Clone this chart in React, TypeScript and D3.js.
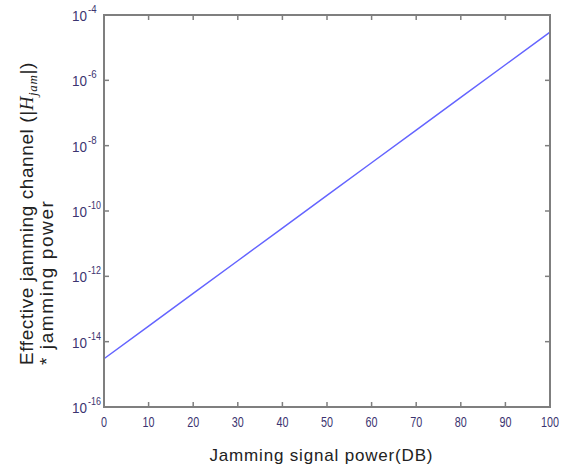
import { useRef, useEffect } from 'react';
import * as d3 from 'd3';

// jamming signal power (dB) and effective jamming channel * jamming power
const powerDb = [0, 10, 20, 30, 40, 50, 60, 70, 80, 90, 100];
const effective = [3e-15, 3e-14, 3e-13, 3e-12, 3e-11, 3e-10, 3e-9, 3e-8, 3e-7, 3e-6, 3e-5];
const xTicks = [0, 10, 20, 30, 40, 50, 60, 70, 80, 90, 100];
const yExponents = [-4, -6, -8, -10, -12, -14, -16];

export default function App() {
  const svgRef = useRef<SVGSVGElement>(null);

  useEffect(() => {
    const svg = d3.select(svgRef.current);
    svg.selectAll('*').remove();

    const width = 570;
    const height = 472;
    const left = 104, right = 550, top = 15, bottom = 407;
    const axisColor = '#7f7f7f';
    const labelColor = '#3b3470';
    const tickLen = 5;
    const font = 'Liberation Sans, Arial, sans-serif';

    const x = d3.scaleLinear().domain([0, 100]).range([left, right]);
    const y = d3.scaleLog().domain([1e-16, 1e-4]).range([bottom, top]);

    svg.attr('width', width).attr('height', height);
    svg.append('rect').attr('width', width).attr('height', height).attr('fill', '#fff');

    // data line
    const line = d3.line<number>()
      .x((d, i) => x(powerDb[i]))
      .y(d => y(d));
    svg.append('path')
      .datum(effective)
      .attr('d', line)
      .attr('fill', 'none')
      .attr('stroke', '#6464ff')
      .attr('stroke-width', 1.5);

    // box
    svg.append('rect')
      .attr('x', left).attr('y', top)
      .attr('width', right - left).attr('height', bottom - top)
      .attr('fill', 'none')
      .attr('stroke', axisColor)
      .attr('stroke-width', 2);

    // x ticks (bottom and top, pointing inward)
    const xt = svg.append('g');
    xTicks.forEach(t => {
      xt.append('line').attr('x1', x(t)).attr('x2', x(t))
        .attr('y1', bottom).attr('y2', bottom - tickLen)
        .attr('stroke', axisColor).attr('stroke-width', 1.5);
      xt.append('line').attr('x1', x(t)).attr('x2', x(t))
        .attr('y1', top).attr('y2', top + tickLen)
        .attr('stroke', axisColor).attr('stroke-width', 1.5);
      xt.append('text')
        .attr('x', x(t)).attr('y', bottom + 20)
        .attr('text-anchor', 'middle')
        .attr('font-family', font)
        .attr('font-size', 15)
        .attr('textLength', String(t).length * 6)
        .attr('lengthAdjust', 'spacingAndGlyphs')
        .attr('fill', labelColor)
        .text(t);
    });

    // y ticks (left and right)
    const yt = svg.append('g');
    yExponents.forEach(e => {
      const v = Math.pow(10, e);
      yt.append('line').attr('x1', left).attr('x2', left + tickLen)
        .attr('y1', y(v)).attr('y2', y(v))
        .attr('stroke', axisColor).attr('stroke-width', 1.5);
      yt.append('line').attr('x1', right).attr('x2', right - tickLen)
        .attr('y1', y(v)).attr('y2', y(v))
        .attr('stroke', axisColor).attr('stroke-width', 1.5);
      yt.append('text')
        .attr('x', 72).attr('y', y(v) + 6)
        .attr('font-family', font)
        .attr('font-size', 15)
        .attr('textLength', 15)
        .attr('lengthAdjust', 'spacingAndGlyphs')
        .attr('fill', labelColor)
        .text('10');
      yt.append('text')
        .attr('x', 88).attr('y', y(v) - 2)
        .attr('font-family', font)
        .attr('font-size', 10)
        .attr('textLength', String(e).length * 4.3)
        .attr('lengthAdjust', 'spacingAndGlyphs')
        .attr('fill', labelColor)
        .text(String(e));
    });

    // x title
    svg.append('text')
      .attr('x', 321).attr('y', 461)
      .attr('text-anchor', 'middle')
      .attr('font-family', font)
      .attr('font-size', 17)
      .attr('fill', '#222')
      .attr('textLength', 223)
      .attr('lengthAdjust', 'spacing')
      .text('Jamming signal power(DB)');

    // y title, two lines, both starting at the same point
    const t1 = svg.append('text')
      .attr('transform', 'translate(33,365) rotate(-90)')
      .attr('text-anchor', 'start')
      .attr('font-family', font)
      .attr('font-size', 19)
      .attr('letter-spacing', 0.6)
      .attr('fill', '#222');
    t1.append('tspan').text('Effective jamming channel (|');
    t1.append('tspan').attr('font-family', 'Liberation Serif, serif').attr('font-style', 'italic').text('H');
    t1.append('tspan').attr('font-family', 'Liberation Serif, serif').attr('font-style', 'italic')
      .attr('font-size', 13).attr('dy', 4).text('jam');
    t1.append('tspan').attr('dy', -4).text('|)');

    svg.append('text')
      .attr('transform', 'translate(53,365) rotate(-90)')
      .attr('text-anchor', 'start')
      .attr('font-family', font)
      .attr('font-size', 19)
      .attr('letter-spacing', 1.6)
      .attr('fill', '#222')
      .text('* jamming power');
  }, []);

  return (
    <svg ref={svgRef} style={{ position: 'absolute', left: 0, top: 0 }} />
  );
}
